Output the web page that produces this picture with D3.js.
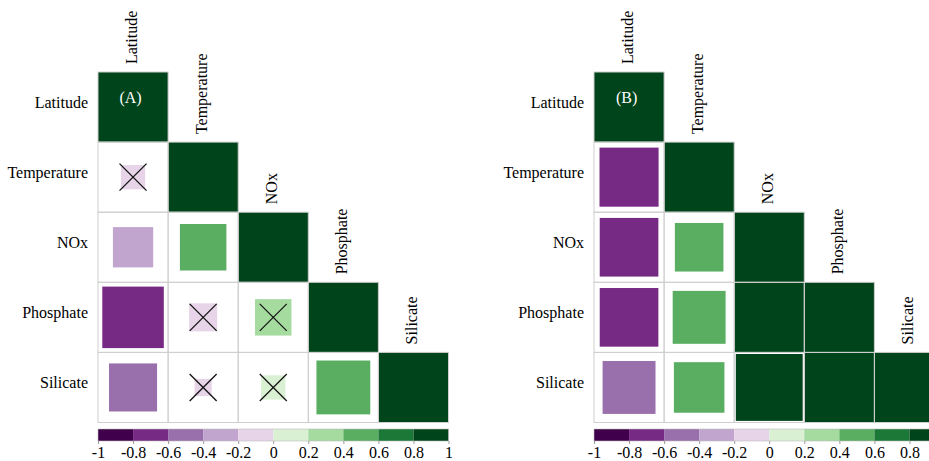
<!DOCTYPE html>
<html>
<head>
<meta charset="utf-8">
<script src="https://cdn.jsdelivr.net/npm/d3@7"></script>
<style>
  body { margin: 0; background: #fff; }
  svg { display: block; }
  text { font-family: "Liberation Serif", "Times New Roman", serif; fill: #000; }
</style>
</head>
<body>
<svg id="chart" width="929" height="461"></svg>
<script>
// Variables shown on both axes of each correlation matrix
const variables = ["Latitude", "Temperature", "NOx", "Phosphate", "Silicate"];

// Lower triangle (row by row, diagonal included) of the correlation matrices
const corrA = [
  [1],
  [-0.12, 1],
  [-0.33, 0.44, 1],
  [-0.77, -0.16, 0.27, 1],
  [-0.47, -0.06, 0.12, 0.59, 1]
];
const corrB = [
  [1],
  [-0.71, 1],
  [-0.70, 0.48, 1],
  [-0.70, 0.57, 1.00, 1],
  [-0.57, 0.52, 0.91, 0.98, 1]
];

// Non-significant correlations are crossed out
const insignificantA = [
  [false],
  [true, false],
  [false, false, false],
  [false, true, true, false],
  [false, true, true, false, false]
];
const insignificantB = [
  [false],
  [false, false],
  [false, false, false],
  [false, false, false, false],
  [false, false, false, false, false]
];

// Panel tags
const panelTags = ["(A)", "(B)"];

// Diverging purple-green palette in ten bins from -1 to 1
const colorBins = ["#40004B", "#762A83", "#9970AB", "#C2A5CF", "#E7D4E8",
                   "#D9F0D3", "#A6DBA0", "#5AAE61", "#1B7837", "#00441B"];
const legendTicks = [-1, -0.8, -0.6, -0.4, -0.2, 0, 0.2, 0.4, 0.6, 0.8, 1];

const panels = [
  { tag: panelTags[0], values: corrA, insignificant: insignificantA, x0: 98 },
  { tag: panelTags[1], values: corrB, insignificant: insignificantB, x0: 594 }
];

const svg = d3.select("#chart");
const width = +svg.attr("width");
const cell = 70.1;
const gridTop = 72;
const n = variables.length;

const color = d3.scaleQuantize().domain([-1, 1]).range(colorBins);
const side = d3.scaleSqrt().domain([0, 1]).range([0, cell]);

panels.forEach(p => {
  const g = svg.append("g");
  const x = d3.scaleBand().domain(variables).range([p.x0, p.x0 + n * cell]);
  const y = d3.scaleBand().domain(variables).range([gridTop, gridTop + n * cell]);

  // flatten the lower triangle into cells
  const cells = [];
  p.values.forEach((row, i) => row.forEach((v, j) => cells.push({
    row: variables[i], col: variables[j], value: v, ns: p.insignificant[i][j]
  })));

  // white cell backgrounds
  g.selectAll("rect.bg").data(cells).join("rect")
    .attr("class", "bg")
    .attr("x", d => x(d.col)).attr("y", d => y(d.row))
    .attr("width", cell).attr("height", cell)
    .attr("fill", "#fff");

  // squares sized by |r| (area proportional), coloured by r
  g.selectAll("rect.sq").data(cells).join("rect")
    .attr("class", "sq")
    .attr("x", d => x(d.col) + (cell - side(Math.abs(d.value))) / 2)
    .attr("y", d => y(d.row) + (cell - side(Math.abs(d.value))) / 2)
    .attr("width", d => side(Math.abs(d.value)))
    .attr("height", d => side(Math.abs(d.value)))
    .attr("fill", d => color(d.value));

  // grid
  g.selectAll("rect.grid").data(cells).join("rect")
    .attr("class", "grid")
    .attr("x", d => x(d.col)).attr("y", d => y(d.row))
    .attr("width", cell).attr("height", cell)
    .attr("fill", "none")
    .attr("stroke", "#cfcfcf")
    .attr("stroke-width", 1);

  // crosses for non-significant pairs
  const h = 13.5;
  const crosses = g.selectAll("g.cross").data(cells.filter(d => d.ns)).join("g")
    .attr("class", "cross")
    .attr("transform", d => `translate(${x(d.col) + cell / 2},${y(d.row) + cell / 2})`);
  crosses.append("line").attr("x1", -h).attr("y1", -h).attr("x2", h).attr("y2", h);
  crosses.append("line").attr("x1", -h).attr("y1", h).attr("x2", h).attr("y2", -h);
  crosses.selectAll("line").attr("stroke", "#111").attr("stroke-width", 1.3);

  // row labels
  g.selectAll("text.rowlab").data(variables).join("text")
    .attr("class", "rowlab")
    .attr("x", p.x0 - 10)
    .attr("y", d => y(d) + cell / 2 + 1)
    .attr("text-anchor", "end")
    .attr("font-size", 16)
    .text(d => d);

  // column labels, vertical, above each diagonal cell
  g.selectAll("text.collab").data(variables).join("text")
    .attr("class", "collab")
    .attr("transform", d => `translate(${x(d) + cell / 2 + 4},${y(d) - 8}) rotate(-90)`)
    .attr("text-anchor", "start")
    .attr("font-size", 16)
    .text(d => d);

  // panel tag
  g.append("text")
    .attr("x", x(variables[0]) + cell / 2 - 2.5)
    .attr("y", gridTop + 31)
    .attr("text-anchor", "middle")
    .attr("font-size", 16)
    .style("fill", "#fff")
    .text(p.tag);

  // colour legend
  const lx = d3.scaleLinear().domain([-1, 1]).range([p.x0, p.x0 + n * cell]);
  const lg = svg.append("g").attr("transform", "translate(0,429)");
  const bins = colorBins.map((c, i) => ({ c, a: -1 + i * 0.2, b: -1 + (i + 1) * 0.2 }));
  lg.selectAll("rect").data(bins).join("rect")
    .attr("x", d => lx(d.a)).attr("width", d => lx(d.b) - lx(d.a))
    .attr("y", 0).attr("height", 12)
    .attr("fill", d => d.c);
  lg.append("rect")
    .attr("x", lx(-1)).attr("width", lx(1) - lx(-1))
    .attr("y", 0).attr("height", 12)
    .attr("fill", "none").attr("stroke", "#bdbdbd").attr("stroke-width", 0.6);

  // only the tick labels that fall inside the drawing area
  const visibleTicks = legendTicks.filter(t => lx(t) + 4 <= width);
  const axis = d3.axisBottom(lx).tickValues(visibleTicks).tickSize(3)
    .tickFormat(d => String(d));
  const ag = lg.append("g").attr("transform", "translate(0,12)").call(axis);
  ag.select(".domain").remove();
  ag.selectAll(".tick line").attr("stroke", "#9a9a9a");
  ag.selectAll(".tick text")
    .attr("font-size", 16)
    .attr("font-family", "Liberation Serif, Times New Roman, serif")
    .attr("fill", "#000");
});
</script>
</body>
</html>
